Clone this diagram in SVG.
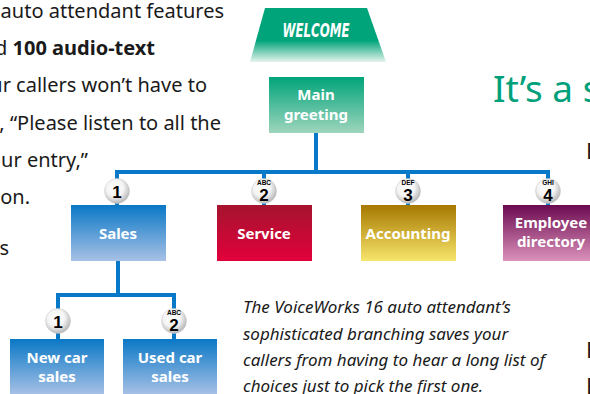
<svg xmlns="http://www.w3.org/2000/svg" width="590" height="394" viewBox="0 0 590 394">
<defs>
<linearGradient id="gWelcome" x1="0" y1="8" x2="0" y2="62" gradientUnits="userSpaceOnUse">
<stop offset="0" stop-color="#00a47a"/><stop offset="0.6" stop-color="#00a47a"/><stop offset="1" stop-color="#e6f4ec"/>
</linearGradient>
<linearGradient id="gGreen" x1="0" y1="0" x2="0" y2="1">
<stop offset="0" stop-color="#00a47a"/><stop offset="1" stop-color="#9ed5bd"/>
</linearGradient>
<linearGradient id="gBlue" x1="0" y1="0" x2="0" y2="1">
<stop offset="0" stop-color="#0a78c6"/><stop offset="1" stop-color="#a8c1e6"/>
</linearGradient>
<linearGradient id="gBlue2" x1="0" y1="339" x2="0" y2="395" gradientUnits="userSpaceOnUse">
<stop offset="0" stop-color="#0a78c6"/><stop offset="1" stop-color="#a8c1e6"/>
</linearGradient>
<linearGradient id="gRed" x1="0" y1="0" x2="0" y2="1">
<stop offset="0" stop-color="#a5142e"/><stop offset="1" stop-color="#e2003c"/>
</linearGradient>
<linearGradient id="gGold" x1="0" y1="0" x2="0" y2="1">
<stop offset="0" stop-color="#a67800"/><stop offset="1" stop-color="#f8e56c"/>
</linearGradient>
<linearGradient id="gPurple" x1="0" y1="0" x2="0" y2="1">
<stop offset="0" stop-color="#6b0a50"/><stop offset="1" stop-color="#db92bb"/>
</linearGradient>
<radialGradient id="gBadge" cx="0.42" cy="0.38" r="0.62">
<stop offset="0" stop-color="#ffffff"/><stop offset="0.55" stop-color="#f4f4f4"/><stop offset="1" stop-color="#b8b8b8"/>
</radialGradient>
<style>
.body{font-family:"Noto Sans","Liberation Sans",sans-serif;font-size:20px;fill:#1a1a1a}
.lbl{font-family:"Noto Sans","Liberation Sans",sans-serif;font-size:15px;font-weight:bold;fill:#ffffff;text-anchor:middle}
.num{font-family:"Liberation Sans","Noto Sans",sans-serif;font-size:17px;font-weight:bold;fill:#000;text-anchor:middle}
.abc{font-family:"Liberation Sans","Noto Sans",sans-serif;font-size:6.5px;font-weight:bold;fill:#000;text-anchor:middle}
.cap{font-family:"Noto Sans","Liberation Sans",sans-serif;font-size:17px;font-style:italic;fill:#1a1a1a}
.edge{font-family:"Noto Sans","Liberation Sans",sans-serif;font-size:22px;fill:#1a1a1a}
.wire{fill:none;stroke:#0878c8;stroke-width:4;stroke-linejoin:miter}
.badge{fill:url(#gBadge);stroke:#c8c8c8;stroke-width:0.5}
</style>
</defs>
<rect width="590" height="394" fill="#ffffff"/>

<g id="bodytext">
<text class="body" x="224" y="18" text-anchor="end">auto attendant features</text>
<text class="body" x="155" y="55" text-anchor="end">d <tspan font-weight="bold">100 audio-text</tspan></text>
<text class="body" x="207" y="92" text-anchor="end">ur callers won’t have to</text>
<text class="body" x="221" y="130" text-anchor="end">, “Please listen to all the</text>
<text class="body" x="88" y="167" text-anchor="end">ur entry,”</text>
<text class="body" x="30" y="204" text-anchor="end">on.</text>
<text class="body" x="9" y="255" text-anchor="end">s</text>
</g>

<g id="heading">
<text x="493" y="102" font-family="'Noto Sans','Liberation Sans',sans-serif" font-size="37" fill="#00a07a">It’s a s</text>
<text class="edge" x="586" y="159">B</text>
<text class="edge" x="586" y="358">B</text>
<text class="edge" x="586" y="394">B</text>
</g>

<g id="connectors">
<path class="wire" d="M316 133 V172"/>
<path class="wire" d="M117 205 V172 H548 V205"/>
<path class="wire" d="M264 172 V205"/>
<path class="wire" d="M408 172 V205"/>
<path class="wire" d="M118 261 V295"/>
<path class="wire" d="M58 339 V295 H174 V339"/>
</g>

<g id="welcome">
<polygon points="265,8 367,8 386,62 250,62" fill="url(#gWelcome)"/>
<text x="316" y="37" font-family="'DejaVu Sans Condensed','Liberation Sans',sans-serif" font-size="19" font-weight="bold" font-style="italic" fill="#ffffff" text-anchor="middle" textLength="67" lengthAdjust="spacingAndGlyphs">WELCOME</text>
</g>

<g id="main-greeting">
<rect x="269" y="77" width="95" height="56" fill="url(#gGreen)"/>
<text class="lbl" x="316" y="100">Main</text>
<text class="lbl" x="316" y="120">greeting</text>
</g>

<g id="badge-1">
<circle class="badge" cx="117" cy="191" r="12.5"/>
<text class="num" x="117" y="198">1</text>
</g>
<g id="badge-2">
<circle class="badge" cx="264" cy="191" r="12.5"/>
<text class="abc" x="264" y="184.5">ABC</text>
<text class="num" x="264" y="201">2</text>
</g>
<g id="badge-3">
<circle class="badge" cx="408" cy="191" r="12.5"/>
<text class="abc" x="408" y="184.5">DEF</text>
<text class="num" x="408" y="201">3</text>
</g>
<g id="badge-4">
<circle class="badge" cx="548" cy="191" r="12.5"/>
<text class="abc" x="548" y="184.5">GHI</text>
<text class="num" x="548" y="201">4</text>
</g>

<g id="sales">
<rect x="71" y="205" width="95" height="56" fill="url(#gBlue)"/>
<text class="lbl" x="118" y="239">Sales</text>
</g>
<g id="service">
<rect x="217" y="205" width="95" height="56" fill="url(#gRed)"/>
<text class="lbl" x="264" y="239">Service</text>
</g>
<g id="accounting">
<rect x="361" y="205" width="95" height="56" fill="url(#gGold)"/>
<text class="lbl" x="408" y="239">Accounting</text>
</g>
<g id="employee-directory">
<rect x="503" y="205" width="95" height="56" fill="url(#gPurple)"/>
<text class="lbl" x="551" y="228">Employee</text>
<text class="lbl" x="551" y="247">directory</text>
</g>

<g id="badge-sub-1">
<circle class="badge" cx="58" cy="321" r="12.5"/>
<text class="num" x="58" y="328">1</text>
</g>
<g id="badge-sub-2">
<circle class="badge" cx="174" cy="321" r="12.5"/>
<text class="abc" x="174" y="314.5">ABC</text>
<text class="num" x="174" y="331">2</text>
</g>

<g id="new-car-sales">
<rect x="10" y="339" width="94" height="56" fill="url(#gBlue2)"/>
<text class="lbl" x="57" y="363">New car</text>
<text class="lbl" x="57" y="382">sales</text>
</g>
<g id="used-car-sales">
<rect x="123" y="339" width="94" height="56" fill="url(#gBlue2)"/>
<text class="lbl" x="170" y="363">Used car</text>
<text class="lbl" x="170" y="382">sales</text>
</g>

<g id="caption">
<text class="cap" x="243" y="313">The VoiceWorks 16 auto attendant’s</text>
<text class="cap" x="243" y="339.5">sophisticated branching saves your</text>
<text class="cap" x="243" y="366">callers from having to hear a long list of</text>
<text class="cap" x="243" y="392">choices just to pick the first one.</text>
</g>
</svg>
